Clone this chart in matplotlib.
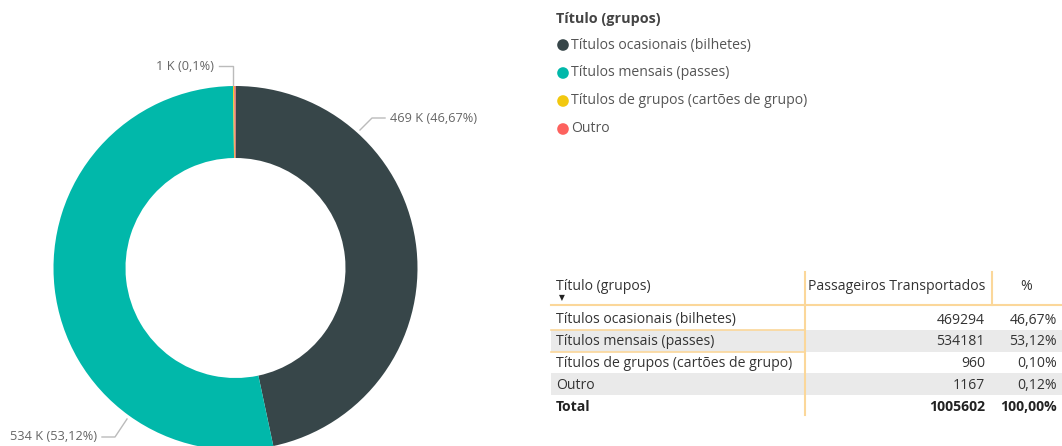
import numpy as np
import matplotlib
matplotlib.use('Agg')
import matplotlib.pyplot as plt

# data
categories = ['Títulos ocasionais (bilhetes)', 'Títulos mensais (passes)',
              'Títulos de grupos (cartões de grupo)', 'Outro']
passageiros = [469294, 534181, 960, 1167]
colors = ['#374649', '#01B8AA', '#F2C80F', '#FD625E']
donut_labels = ['469 K (46,67%)', '534 K (53,12%)', '1 K (0,1%)']

plt.rcParams['font.family'] = ['Open Sans', 'DejaVu Sans']

W, H = 1062, 446
fig = plt.figure(figsize=(W / 100, H / 100), dpi=100)
ax = fig.add_axes([0, 0, 1, 1])

def Y(y):
    # pixel row (from top) -> data y
    return H - y

# donut
cx, cy, r = 235.5, 268, 182
ax.pie(passageiros, colors=colors, startangle=90, counterclock=False,
       radius=r, center=(cx, Y(cy)), wedgeprops=dict(width=72, linewidth=0))
ax.set_xlim(0, W)
ax.set_ylim(0, H)
ax.set_aspect('auto')
ax.axis('off')

lab_col = '#666666'
line_col = '#BBBBBB'
fs_lab = 9.2
# data labels with leader lines
ax.plot([360, 372, 385], [Y(130), Y(118), Y(118)], color=line_col, lw=1)
ax.text(390, Y(119), donut_labels[0], fontsize=fs_lab, color=lab_col, va='center', ha='left')
ax.plot([102, 115, 127], [Y(437), Y(437), Y(419)], color=line_col, lw=1)
ax.text(97, Y(437), donut_labels[1], fontsize=fs_lab, color=lab_col, va='center', ha='right')
ax.plot([219, 233, 233], [Y(66), Y(66), Y(85)], color=line_col, lw=1)
ax.text(214, Y(66), donut_labels[2], fontsize=fs_lab, color=lab_col, va='center', ha='right')

# legend
fs = 10.1
txt_col = '#333333'
ax.text(556, Y(19), 'Título (grupos)', fontsize=10.4, fontweight='bold', color='#444444',
        va='center', ha='left')
for i, (cat, c) in enumerate(zip(categories, colors)):
    yy = 45 + i * 28
    ax.scatter([563], [Y(yy)], s=70, color=c, edgecolors='none')
    ax.text(571, Y(yy), cat, fontsize=fs, color='#555555', va='center', ha='left')

# table
total = sum(passageiros)
orange = '#FBD79A'
x0, x1, x2, x3 = 551, 805, 992, 1062
ax.text(556, Y(287), 'Título (grupos)', fontsize=fs, color=txt_col, va='center')
ax.text(562, Y(298), '▼', fontsize=5.5, color='#222222', va='center', ha='center',
        family='DejaVu Sans')
ax.text(985, Y(287), 'Passageiros Transportados', fontsize=fs, color=txt_col,
        va='center', ha='right')
ax.text(1026, Y(287), '%', fontsize=fs, color=txt_col, va='center', ha='center')
ax.plot([x0, x3], [Y(305), Y(305)], color=orange, lw=1.5)
ax.plot([x1, x1], [Y(272), Y(415)], color=orange, lw=1.5)
ax.plot([x2, x2], [Y(272), Y(305)], color=orange, lw=1.5)

row_h = 21.7
for i, (cat, v) in enumerate(zip(categories, passageiros)):
    yc = 319 + i * row_h
    if i % 2 == 1:
        ax.fill_between([x0, x3], Y(yc - row_h / 2), Y(yc + row_h / 2),
                        color='#EAEAEA', lw=0, zorder=0)
    pct = f'{100 * v / total:.2f}%'.replace('.', ',')
    ax.text(556, Y(yc + 1), cat, fontsize=fs, color=txt_col, va='center')
    ax.text(985, Y(yc + 1), str(v), fontsize=fs, color=txt_col, va='center', ha='right')
    ax.text(1057, Y(yc + 1), pct, fontsize=fs, color=txt_col, va='center', ha='right')
# selected row outline
for yb in (319 + row_h / 2, 319 + 1.5 * row_h):
    ax.plot([x0, x1], [Y(yb), Y(yb)], color=orange, lw=1.2)

yt = 319 + 4 * row_h
ax.text(556, Y(yt + 1), 'Total', fontsize=fs, fontweight='bold', color='#222222', va='center')
ax.text(985, Y(yt + 1), str(total), fontsize=fs, fontweight='bold', color='#222222',
        va='center', ha='right')
ax.text(1057, Y(yt + 1), '100,00%', fontsize=fs, fontweight='bold', color='#222222',
        va='center', ha='right')

plt.savefig('out.png', dpi=100)
